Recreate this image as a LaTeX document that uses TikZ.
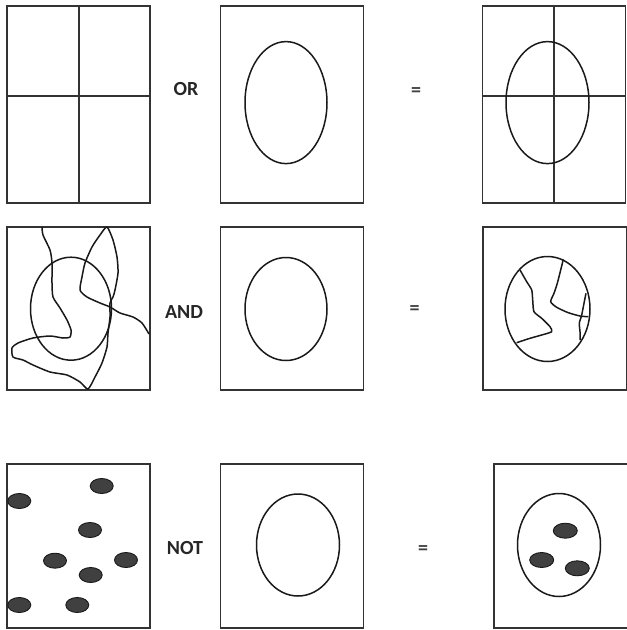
\documentclass[tikz,border=0pt]{standalone}
\usepackage{fontspec}
\setmainfont{Carlito}
\usetikzlibrary{shapes.geometric, positioning}

\begin{document}
\begin{tikzpicture}[
    x=1pt, y=-1pt,
    frame/.style={draw=black!80, line width=1.7pt, minimum width=143pt, minimum height=#1, inner sep=0pt},
    frame/.default=197pt,
    oval/.style={draw=black!90, ellipse, line width=1.5pt, inner sep=0pt},
    blob/.style={draw=black!90, fill=black!75, ellipse, line width=0.9pt, inner sep=0pt,
                 minimum width=23pt, minimum height=15pt},
    wiggle/.style={black!90, line width=1.5pt, line join=round},
    opword/.style={font=\bfseries\fontsize{20}{22}\selectfont, text=black!85},
    eqsign/.style={font=\bfseries\fontsize{20}{22}\selectfont, text=black!75},
]
\clip (0,0) rectangle (627,630);

% ===================== ROW 1: OR =====================
\node[frame] (orA) at (78.5,104.5) {};
\draw[frame] (orA.north -| 79,0) -- (orA.south -| 79,0);
\draw[frame] (orA.west |- 0,96) -- (orA.east |- 0,96);

\node[opword] (orword) at (186,89) {OR};

\node[frame] (orB) at (292,104.5) {};
\node[oval, minimum width=82pt, minimum height=122pt] (orBo) at (286,102.6) {};

\node[eqsign] (oreq) at (416,92) {=};

\node[frame] (orC) at (554,104.5) {};
\draw[frame] (orC.north) -- (orC.south);
\draw[frame] (orC.west |- 0,96) -- (orC.east |- 0,96);
\node[oval, minimum width=83pt, minimum height=122pt] (orCo) at (547.5,102.6) {};

% ===================== ROW 2: AND =====================
\node[frame=163pt] (andA) at (78.5,308.5) {};
\node[oval, minimum width=81pt, minimum height=103pt] (andAo) at (71,308.7) {};
\draw[wiggle] plot[smooth, tension=0.4] coordinates {
    (42,227) (43,235) (50,250) (52,263) (52,283) (53,297) (60,308) (67,320)
    (71,330) (70,337) (63,338) (50,336) (33,338) (18,343) (12,348) (13,357)
    (23,360) (33,365) (50,372) (67,375) (80,382) (88,389)
    (95,377) (102,363) (107,347) (108,333) (110,317) (110,303) (113,297)
    (115,290) (118,273) (117,257) (113,240) (107,227)
    (100,235) (92,247) (85,263) (82,277) (80,290) (87,297) (100,303)
    (110,307) (120,313) (133,317) (142,323) (149,334)};

\node[opword] (andword) at (184,312) {AND};

\node[frame=163pt] (andB) at (292,308.5) {};
\node[oval, minimum width=82pt, minimum height=103pt] (andBo) at (286,309) {};

\node[eqsign] (andeq) at (414.5,310) {=};

\node[frame=163pt, minimum width=144pt] (andC) at (555,308.5) {};
\node[oval, minimum width=85pt, minimum height=105pt] (andCo) at (547.5,309) {};
\draw[wiggle] plot[smooth, tension=0.4] coordinates {
    (520,270) (526.7,281.7) (531.7,290) (532.7,300) (534,311.7) (541.7,318.3)
    (550,326.7) (551.7,331.7) (541.7,335) (530,338.3) (516.7,342.7)};
\draw[wiggle] plot[smooth, tension=0.4] coordinates {
    (563.3,259.3) (560.7,270) (557.3,283.3) (554,293.3) (550.7,301.7)
    (556.7,307.3) (568.3,312.7) (580,316) (588.3,316.7)};
\draw[wiggle] plot[smooth, tension=0.4] coordinates {
    (586,293.3) (584,303.3) (581.7,315) (579.3,323.3) (580,331.7) (580,340)};

% ===================== ROW 3: NOT =====================
\node[frame=164pt] (notA) at (78.5,546) {};
\foreach \bx/\by [count=\i] in {101.7/486, 19.3/501, 90/530, 55/560.7,
                               126/560, 90.7/575, 19.3/605, 77.3/605} {
    \node[blob] (notAb\i) at (\bx,\by) {};
}

\node[opword] (notword) at (185,548) {NOT};

\node[frame=164pt] (notB) at (292,546) {};
\node[oval, minimum width=83pt, minimum height=102pt] (notBo) at (298,545) {};

\node[eqsign] (noteq) at (423,550) {=};

\node[frame=164pt, minimum width=150pt] (notC) at (569,546) {};
\node[oval, minimum width=83pt, minimum height=103pt] (notCo) at (559,545) {};
\foreach \bx/\by [count=\i] in {565.3/530.7, 541.7/560, 577.3/568.3} {
    \node[blob, minimum width=24pt] (notCb\i) at (\bx,\by) {};
}

\end{tikzpicture}
\end{document}
